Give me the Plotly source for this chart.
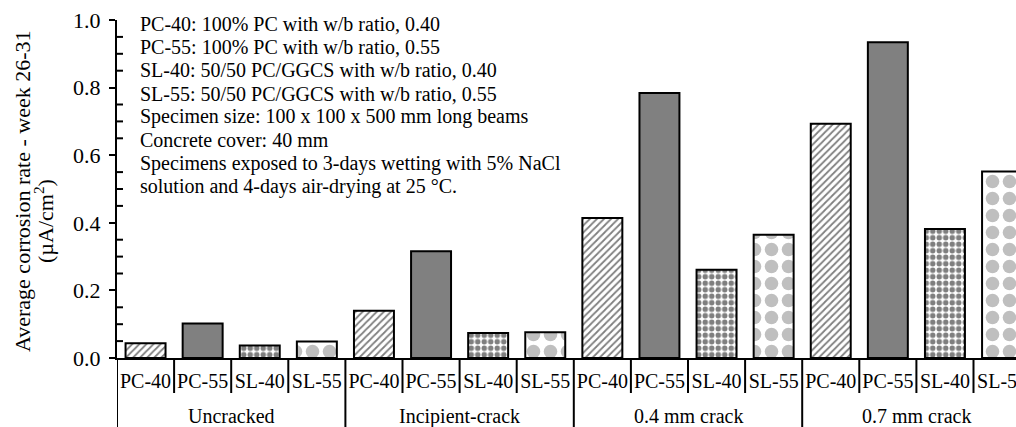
import plotly.graph_objects as go

# ---- data ----
groups = ["Uncracked", "Incipient-crack", "0.4 mm crack", "0.7 mm crack"]
mixes = ["PC-40", "PC-55", "SL-40", "SL-55"]
pc40 = [0.044, 0.140, 0.414, 0.693]
pc55 = [0.102, 0.316, 0.784, 0.934]
sl40 = [0.037, 0.074, 0.261, 0.382]
sl55 = [0.049, 0.076, 0.365, 0.552]
notes = [
    "PC-40: 100% PC with w/b ratio, 0.40",
    "PC-55: 100% PC with w/b ratio, 0.55",
    "SL-40: 50/50 PC/GGCS with w/b ratio, 0.40",
    "SL-55: 50/50 PC/GGCS with w/b ratio, 0.55",
    "Specimen size: 100 x 100 x 500 mm long beams",
    "Concrete cover: 40 mm",
    "Specimens exposed to 3-days wetting with 5% NaCl",
    "solution and 4-days air-drying at 25 \u00b0C.",
]
y_title_lines = ["Average corrosion rate - week 26-31", "(\u00b5A/cm<sup>2</sup>)"]
y_ticks = [0.0, 0.2, 0.4, 0.6, 0.8, 1.0]
y_minor_step = 0.05

series = {"PC-40": pc40, "PC-55": pc55, "SL-40": sl40, "SL-55": sl55}
styles = {
    "PC-40": dict(color="white", pattern=dict(shape="/", fgcolor="black", bgcolor="white",
                                               size=5, solidity=0.35)),
    "PC-55": dict(color="#808080", pattern=None),
    "SL-40": dict(color="white", pattern=dict(shape=".", fgcolor="black", bgcolor="white",
                                               size=6.5, solidity=0.55)),
    "SL-55": dict(color="white", pattern=dict(shape=".", fgcolor="#808080", bgcolor="white",
                                               size=17, solidity=0.5)),
}

n_g, n_m = len(groups), len(mixes)
# category index of each (group, mix) pair along the axis
def cat_index(gi, mi):
    return gi * n_m + mi

tick_pos = [cat_index(g, m) for g in range(n_g) for m in range(n_m)]
tick_txt = [mixes[m] for g in range(n_g) for m in range(n_m)]
boundaries = [p - 0.5 for p in tick_pos] + [tick_pos[-1] + 0.5]
group_bounds = [cat_index(g, 0) - 0.5 for g in range(n_g)] + [n_g * n_m - 0.5]
group_centers = [cat_index(g, 0) + (n_m - 1) / 2 for g in range(n_g)]
n_minor = int(round((y_ticks[-1] - y_ticks[0]) / y_minor_step))
per_major = int(round((y_ticks[1] - y_ticks[0]) / y_minor_step))
y_minor = [round(y_ticks[0] + k * y_minor_step, 4) for k in range(n_minor + 1) if k % per_major]

FONT = "Liberation Serif, Times New Roman, serif"

fig = go.Figure()
for mi, m in enumerate(mixes):
    st = styles[m]
    marker = dict(color=st["color"], line=dict(color="black", width=2))
    if st["pattern"]:
        marker["pattern"] = st["pattern"]
    fig.add_trace(go.Bar(
        x=[cat_index(g, mi) for g in range(n_g)], y=series[m],
        name=m, marker=marker, width=0.7, showlegend=False,
        customdata=groups, hovertemplate="%{customdata}, " + m + ": %{y}<extra></extra>",
    ))

L, T, B, W, H = 117, 20, 69, 1016, 427
plot_h = H - T - B
plot_w = W - L
cat_w = 57.1
xmax = plot_w / cat_w - 0.5

def py(pix):
    return (H - B - pix) / plot_h

for i, txt in enumerate(notes):
    yc = 23.7 + i * 23.3
    fig.add_annotation(
        text=txt, xref="paper", yref="paper",
        x=(138 - L) / plot_w, y=py(yc),
        xanchor="left", yanchor="middle", showarrow=False,
        font=dict(family=FONT, size=20, color="black"),
    )

# y-axis title (two rotated lines)
for txt, px, pyy in zip(y_title_lines, [22, 44], [191, 221]):
    fig.add_annotation(
        text=txt, xref="paper", yref="paper",
        x=(px - L) / plot_w, y=py(pyy),
        xanchor="center", yanchor="middle", textangle=-90, showarrow=False,
        font=dict(family=FONT, size=22, color="black"),
    )

# group labels
for g, xc in zip(groups, group_centers):
    fig.add_annotation(
        text=g, xref="x", yref="paper", x=xc, y=py(416),
        xanchor="center", yanchor="middle", showarrow=False,
        font=dict(family=FONT, size=20, color="black"),
    )
# category boundary ticks (short) and group dividers (full height)
for xb in boundaries:
    if xb > xmax:
        continue
    long = xb in group_bounds
    fig.add_shape(type="line", xref="x", yref="paper", x0=xb, x1=xb,
                  y0=0, y1=py(H + 2) if long else py(393),
                  line=dict(color="black", width=2))
# inside minor ticks on the value axis
for v in y_minor:
    fig.add_shape(type="line", xref="paper", yref="y", x0=0, x1=6 / plot_w,
                  y0=v, y1=v, line=dict(color="black", width=2))

fig.update_layout(
    width=W, height=H,
    margin=dict(l=L, r=0, t=T, b=B, pad=0),
    paper_bgcolor="white", plot_bgcolor="white",
    barmode="overlay",
    font=dict(family=FONT, size=20, color="black"),
    xaxis=dict(
        range=[-0.5, xmax],
        automargin=False,
        showline=True, linecolor="black", linewidth=2,
        tickmode="array", tickvals=tick_pos, ticktext=tick_txt,
        ticks="", tickangle=0, ticklabelstandoff=4, ticklabeloverflow="allow",
        tickfont=dict(family=FONT, size=20, color="black"),
        showgrid=False, zeroline=False,
    ),
    yaxis=dict(
        range=[0, 1],
        automargin=False,
        tickmode="array", tickvals=y_ticks, ticktext=["%.1f" % v for v in y_ticks],
        showline=True, linecolor="black", linewidth=2,
        ticks="outside", ticklen=6, tickwidth=2, tickcolor="black",
        ticklabelstandoff=4,
        showgrid=False, zeroline=False,
        tickfont=dict(family=FONT, size=22, color="black"),
    ),
)

fig.write_html("out.html")
